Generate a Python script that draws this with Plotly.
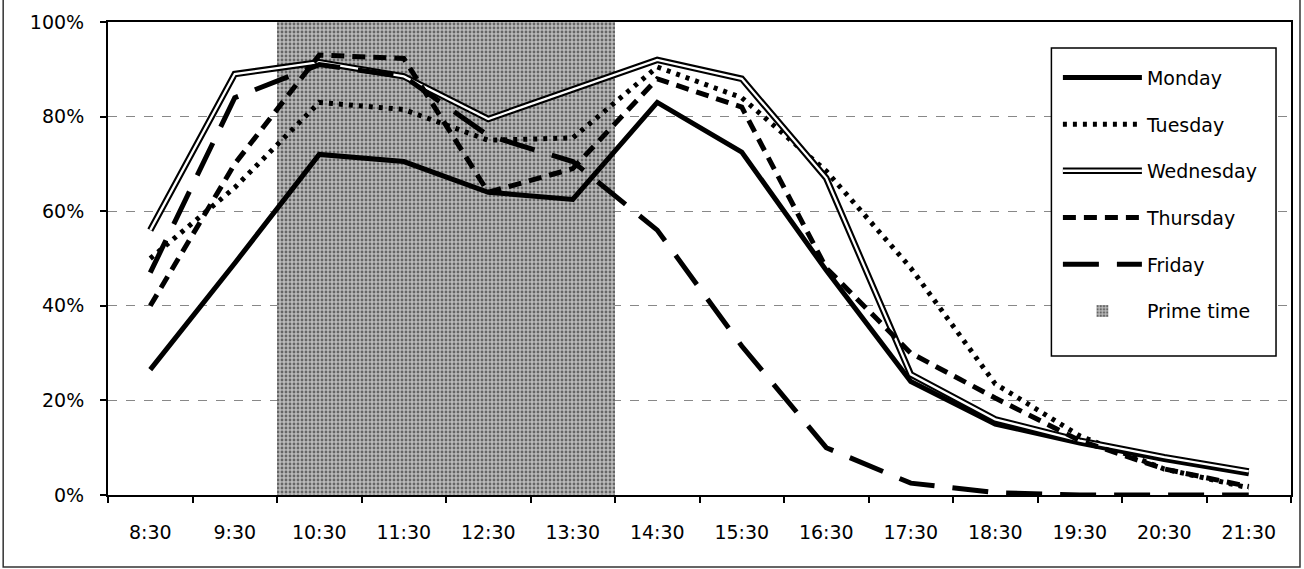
import plotly.graph_objects as go

times = ["8:30", "9:30", "10:30", "11:30", "12:30", "13:30", "14:30",
         "15:30", "16:30", "17:30", "18:30", "19:30", "20:30", "21:30"]
monday = [26.5, 49, 72, 70.5, 64, 62.5, 83, 72.5, 47.5, 24, 15, 11, 7.5, 4.5]
tuesday = [50, 65, 83, 81.5, 75, 75.5, 90.5, 84, 68.5, 48, 23.5, 12.5, 5.5, 1.5]
wednesday = [56, 89, 91.5, 88.5, 79.5, 85.7, 92, 88, 67, 25.5, 16, 11.5, 8, 5]
thursday = [40, 70, 93, 92.3, 64, 69, 88, 82, 48, 30, 20.5, 11.5, 5.5, 1.8]
friday = [47, 84, 91, 88.5, 76, 70.5, 56, 31.5, 10, 2.5, 0.5, 0, 0, 0]
prime_times = ["10:30", "11:30", "12:30", "13:30"]
prime_level = [100, 100, 100, 100]
y_ticks = [0, 20, 40, 60, 80, 100]
y_labels = ["0%", "20%", "40%", "60%", "80%", "100%"]

FONT = "DejaVu Sans"
W, H = 1304, 569
ML, MR, MT, MB = 108, 11, 22, 74
PH = H - MT - MB
PW = W - ML - MR

fig = go.Figure()

fig.add_trace(go.Scatter(x=times, y=monday, name="Monday", mode="lines",
                         line=dict(color="black", width=5),
                         legendgroup="mon"))
fig.add_trace(go.Scatter(x=times, y=tuesday, name="Tuesday", mode="lines",
                         line=dict(color="black", width=5, dash="4px,6px"),
                         legendgroup="tue"))
fig.add_trace(go.Scatter(x=times, y=wednesday, name="Wednesday", mode="lines",
                         line=dict(color="black", width=6.5),
                         legendgroup="wed"))
fig.add_trace(go.Scatter(x=times, y=wednesday, name=" ", mode="lines",
                         line=dict(color="white", width=2.3),
                         legend="legend2", showlegend=True))
fig.add_trace(go.Scatter(x=times, y=thursday, name="Thursday", mode="lines",
                         line=dict(color="black", width=5, dash="13px,8px"),
                         legendgroup="thu"))
fig.add_trace(go.Scatter(x=times, y=friday, name="Friday", mode="lines",
                         line=dict(color="black", width=5, dash="36px,18px"),
                         legendgroup="fri"))
fig.add_trace(go.Bar(x=prime_times, y=prime_level, name="Prime time",
                     marker=dict(color="#b0b0b0", line=dict(width=0),
                                 pattern=dict(shape=".", fgcolor="#111",
                                              bgcolor="#bababa", size=4,
                                              solidity=0.4)),
                     legendgroup="prime"))

gap = 19
item_h = 19 * 1.3 + 3
title_size = 7
leg_x = (1058 - ML) / PW
leg_y = (495 - 48) / PH
leg2_y = leg_y - (9 + 2 * (item_h + gap)) / PH

common_leg = dict(x=leg_x, xanchor="left", yanchor="top",
                  font=dict(family=FONT, size=19, color="black"),
                  borderwidth=1.5, itemwidth=79,
                  bgcolor="rgba(0,0,0,0)", bordercolor="rgba(0,0,0,0)")

fig.update_layout(
    width=W, height=H,
    margin=dict(l=ML, r=MR, t=MT, b=MB),
    paper_bgcolor="white", plot_bgcolor="white",
    font=dict(family=FONT, size=19, color="black"),
    bargap=0,
    legend=dict(y=leg_y, tracegroupgap=gap, traceorder="grouped",
                title=dict(text=" ", font=dict(size=title_size)),
                **common_leg),
    legend2=dict(y=leg2_y, **common_leg),
    xaxis=dict(type="category", range=[-0.5, len(times) - 0.5],
               showline=True, linecolor="black", linewidth=2, mirror=True,
               ticks="outside", tickson="boundaries", ticklen=6,
               tickcolor="black", tickwidth=1.5, showgrid=False,
               ticklabelstandoff=19,
               tickfont=dict(family=FONT, size=19, color="black")),
    yaxis=dict(range=[0, 100], tickvals=y_ticks, ticktext=y_labels,
               showline=True, linecolor="black", linewidth=2, mirror=True,
               ticks="outside", ticklen=6, tickcolor="black", tickwidth=1.5,
               showgrid=True, gridcolor="#888", gridwidth=1, griddash="dash",
               zeroline=False, ticklabelstandoff=12,
               tickfont=dict(family=FONT, size=19, color="black")),
    shapes=[
        dict(type="rect", xref="paper", yref="paper",
             x0=(3 - ML) / PW, x1=(1302 - ML) / PW,
             y0=(495 - 567) / PH, y1=(495 + 10) / PH,
             line=dict(color="#333", width=1.5), fillcolor="rgba(0,0,0,0)"),
        dict(type="rect", xref="paper", yref="paper", layer="above",
             x0=(1053 - ML) / PW, x1=(1278 - ML) / PW,
             y0=(495 - 356) / PH, y1=(495 - 48) / PH,
             line=dict(color="black", width=1.5), fillcolor="white"),
    ],
)

fig.write_html("out.html", config={"displayModeBar": False},
               post_script="document.body.style.margin='0px';")
